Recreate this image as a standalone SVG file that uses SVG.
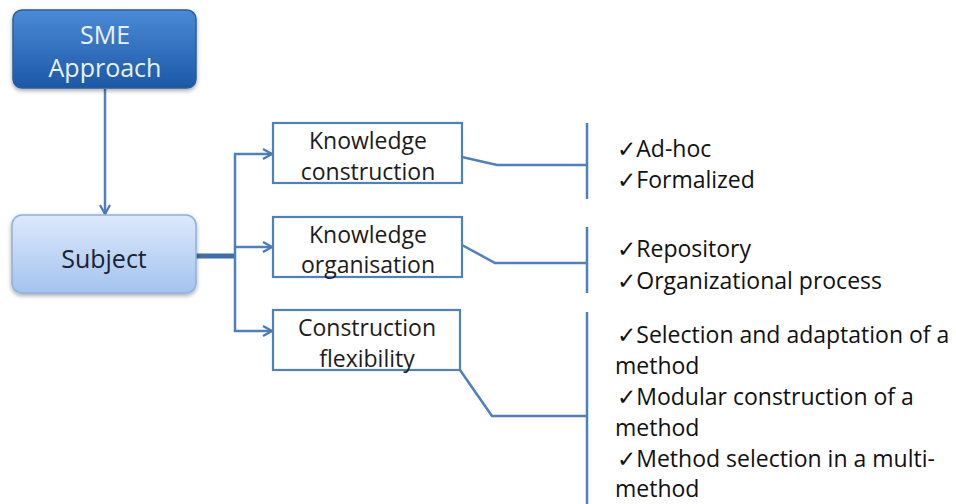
<svg xmlns="http://www.w3.org/2000/svg" width="956" height="504" viewBox="0 0 956 504">
  <defs>
    <linearGradient id="gradDark" x1="0" y1="0" x2="0" y2="1">
      <stop offset="0" stop-color="#4a8ad6"/>
      <stop offset="1" stop-color="#1c58a6"/>
    </linearGradient>
    <linearGradient id="gradLight" x1="0" y1="0" x2="0" y2="1">
      <stop offset="0" stop-color="#dde9fb"/>
      <stop offset="1" stop-color="#a3c3ef"/>
    </linearGradient>
    <filter id="shadow" x="-10%" y="-10%" width="120%" height="130%">
      <feDropShadow dx="0" dy="2" stdDeviation="2" flood-color="#000" flood-opacity="0.35"/>
    </filter>
    <marker id="chevron" viewBox="0 0 12 12" refX="11" refY="6" markerWidth="12" markerHeight="12" markerUnits="userSpaceOnUse" orient="auto">
      <path d="M2,1 L11,6 L2,11" fill="none" stroke="#4a78b8" stroke-width="2.2" stroke-linejoin="miter"/>
    </marker>
  </defs>
  <style>
    .conn { fill: none; stroke: #4f7fbd; stroke-width: 2.5; }
    .box { fill: #ffffff; stroke: #4f81bd; stroke-width: 2.2; }
    .lbl { font-family: "Open Sans", "DejaVu Sans", sans-serif; font-size: 23px; fill: #1c1c1c; text-anchor: middle; }
    .item { font-family: "Open Sans", "DejaVu Sans", sans-serif; font-size: 23px; fill: #111111; }
    .big { font-family: "Open Sans", "DejaVu Sans", sans-serif; font-size: 25px; text-anchor: middle; }
  </style>

  <rect width="956" height="504" fill="#ffffff"/>

  <!-- connectors -->
  <g id="connectors">
    <path class="conn" d="M105,89 V214" marker-end="url(#chevron)"/>
    <path d="M196,256 H235" fill="none" stroke="#3f6ea8" stroke-width="5"/>
    <path class="conn" d="M235,154 V332"/>
    <path class="conn" d="M234,154 H272" marker-end="url(#chevron)"/>
    <path class="conn" d="M234,247 H272" marker-end="url(#chevron)"/>
    <path class="conn" d="M234,331 H272" marker-end="url(#chevron)"/>
    <path class="conn" d="M462,157 L497,165 H587"/>
    <path class="conn" d="M587,123 V199"/>
    <path class="conn" d="M462,245 L495,263 H587"/>
    <path class="conn" d="M587,227 V293"/>
    <path class="conn" d="M460,370 L492,416 H587"/>
    <path class="conn" d="M587,312 V504"/>
  </g>

  <g id="sme-approach">
    <rect x="13" y="10" width="183" height="78" rx="9" fill="url(#gradDark)" stroke="#2b5d9c" stroke-width="1.5" filter="url(#shadow)"/>
    <text class="big" x="105" y="44" fill="#e9f1fb">SME</text>
    <text class="big" x="105" y="77" fill="#e9f1fb">Approach</text>
  </g>

  <g id="subject">
    <rect x="12" y="215" width="184" height="78" rx="10" fill="url(#gradLight)" stroke="#8eb0de" stroke-width="1.5" filter="url(#shadow)"/>
    <text class="big" x="104" y="268" fill="#1b2233">Subject</text>
  </g>

  <g id="knowledge-construction">
    <rect class="box" x="273" y="123" width="189" height="60"/>
    <text class="lbl" x="368" y="149">Knowledge</text>
    <text class="lbl" x="368" y="180">construction</text>
  </g>

  <g id="knowledge-organisation">
    <rect class="box" x="273" y="217" width="189" height="60"/>
    <text class="lbl" x="368" y="243">Knowledge</text>
    <text class="lbl" x="368" y="273">organisation</text>
  </g>

  <g id="construction-flexibility">
    <rect class="box" x="273" y="310" width="187" height="60"/>
    <text class="lbl" x="367" y="336">Construction</text>
    <text class="lbl" x="367" y="367">flexibility</text>
  </g>

  <g id="construction-items">
    <text class="item" x="617" y="157">✓Ad-hoc</text>
    <text class="item" x="617" y="188">✓Formalized</text>
  </g>

  <g id="organisation-items">
    <text class="item" x="617" y="257">✓Repository</text>
    <text class="item" x="617" y="289">✓Organizational process</text>
  </g>

  <g id="flexibility-items">
    <text class="item" x="617" y="343">✓Selection and adaptation of a</text>
    <text class="item" x="615" y="374">method</text>
    <text class="item" x="617" y="405">✓Modular construction of a</text>
    <text class="item" x="615" y="436">method</text>
    <text class="item" x="617" y="467">✓Method selection in a multi-</text>
    <text class="item" x="615" y="497">method</text>
  </g>
</svg>
